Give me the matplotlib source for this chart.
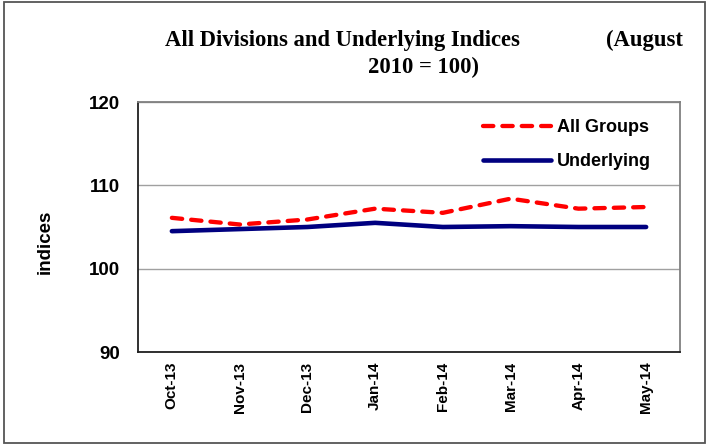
import matplotlib
matplotlib.use("Agg")
import matplotlib.pyplot as plt
from matplotlib.patches import Rectangle

months = ["Oct-13", "Nov-13", "Dec-13", "Jan-14", "Feb-14", "Mar-14", "Apr-14", "May-14"]
all_groups = [106.1, 105.3, 105.9, 107.2, 106.7, 108.4, 107.2, 107.4]
underlying = [104.5, 104.75, 105.0, 105.5, 105.0, 105.1, 105.0, 105.0]

W, H = 717, 444
fig = plt.figure(figsize=(W / 100, H / 100), dpi=100)
# plot area in pixels: x 138..680, y 102..352
ax = fig.add_axes([138 / W, 1 - 352 / H, (680 - 138) / W, (352 - 102) / H])

x = range(len(months))
ax.plot(x, all_groups, color="#ff0000", lw=3.1, ls=(0, (2.4, 2.1)),
        dash_capstyle="round", label="All Groups")
ax.plot(x, underlying, color="#000080", lw=3.3, solid_capstyle="round", label="Underlying")

ax.set_xlim(-0.5, len(months) - 0.5)
ax.set_ylim(90, 120)
ax.set_yticks([90, 100, 110, 120])
ax.set_xticks(list(x))
ax.set_xticklabels(months, rotation=90, fontsize=11, fontweight="bold", family="Liberation Sans")
for t in ax.get_yticklabels():
    t.set_fontsize(13.5)
    t.set_fontweight("bold")
    t.set_family("Liberation Sans")
ax.tick_params(axis="y", length=0, pad=13)
ax.tick_params(axis="x", length=0, pad=7)
ax.yaxis.grid(True, color="#a0a0a0", lw=1)
ax.set_axisbelow(True)
for side, s in ax.spines.items():
    s.set_linewidth(1.3)
    s.set_color("#202020" if side in ("left", "bottom") else "#808080")

fig.text(45 / W, 1 - 242 / H, "indices", rotation=90, fontsize=13.5, fontweight="bold",
         family="Liberation Sans", ha="center", va="center")

ax.legend(loc="upper left", frameon=False, handlelength=3.77, handletextpad=0.33,
          labelspacing=0.95, borderpad=0, borderaxespad=0,
          prop={"family": "Liberation Sans", "weight": "bold", "size": 13},
          bbox_to_anchor=(483 / W, 1 - 119 / H), bbox_transform=fig.transFigure)

title_kw = dict(family="Liberation Serif", fontweight="bold", fontsize=16.3, va="baseline")
fig.text(165 / W, 1 - 46 / H, "All Divisions and Underlying Indices", ha="left", **title_kw)
fig.text(683 / W, 1 - 46 / H, "(August", ha="right", **title_kw)
fig.text(424 / W, 1 - 73 / H, "2010 = 100)", ha="center", **title_kw)

fig.patches.append(Rectangle((4 / W, 1 - 443 / H), 701 / W, 441 / H, transform=fig.transFigure,
                             fill=False, edgecolor="#555555", lw=1.3))

fig.savefig("out.png", dpi=100)
